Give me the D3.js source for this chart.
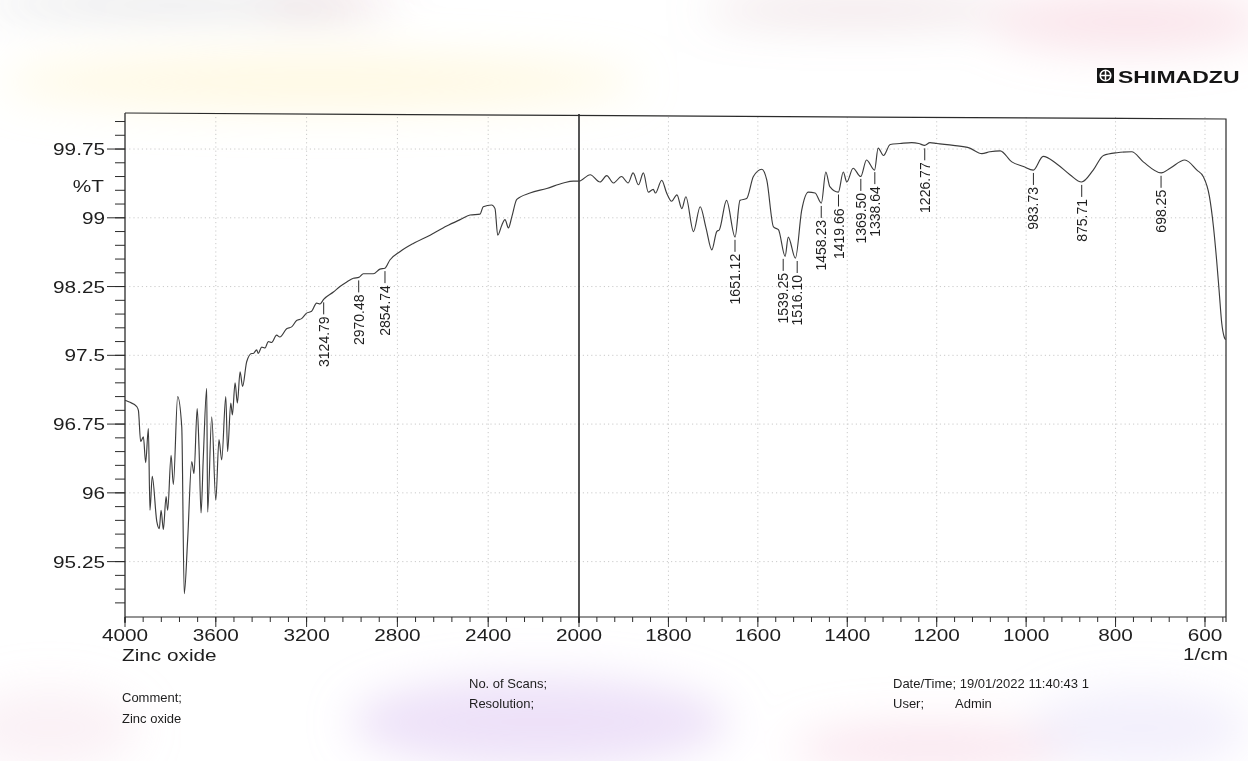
<!DOCTYPE html>
<html>
<head>
<meta charset="utf-8">
<script src="https://cdn.jsdelivr.net/npm/d3@7"></script>
<style>
  html, body { margin: 0; padding: 0; background: #fff; }
  svg { display: block; font-family: "Liberation Sans", Arial, sans-serif; }
</style>
</head>
<body>
<svg id="chart" width="1248" height="761"></svg>
<script>
// FTIR spectrum of zinc oxide: wavenumber (1/cm) and transmittance (%T)
const wavenumbers = [
  4000, 3981, 3948, 3941, 3931, 3919, 3909, 3897, 3890, 3880,
  3860, 3849, 3841, 3831, 3819, 3812, 3797, 3787, 3768, 3750,
  3739, 3724, 3706, 3696, 3682, 3674, 3665, 3655, 3640, 3636,
  3618, 3600, 3586, 3574, 3556, 3548, 3534, 3527, 3515, 3505,
  3493, 3482, 3464, 3442, 3435, 3420, 3413, 3398, 3383, 3369,
  3354, 3332, 3318, 3288, 3266, 3244, 3222, 3200, 3178, 3156,
  3141, 3125, 3082, 3053, 3023, 2994, 2970, 2950, 2906, 2877,
  2855, 2833, 2789, 2730, 2656, 2583, 2524, 2480, 2436, 2422,
  2385, 2370, 2358, 2340, 2326, 2311, 2296, 2274, 2216, 2142,
  2069, 2025, 2000,
  1975, 1953, 1938, 1923, 1905, 1890, 1879, 1867, 1856, 1845,
  1834, 1829, 1815, 1804, 1793, 1781, 1770, 1761, 1744, 1729,
  1716, 1703, 1692, 1686, 1670, 1651, 1640, 1625, 1610, 1591,
  1580, 1565, 1554, 1539, 1532, 1516, 1502, 1487, 1472, 1458,
  1448, 1439, 1420, 1409, 1401, 1387, 1370, 1357, 1339, 1331,
  1319, 1304, 1282, 1256, 1240, 1227, 1215, 1200, 1163, 1126,
  1099, 1081, 1058, 1032, 1006, 984, 962, 932, 902, 876,
  850, 827, 797, 764, 738, 698, 678, 645, 618, 604,
  590, 581, 574, 568, 562.5, 557, 554
];
const transmittance = [
  97.01, 96.99, 96.94, 96.90, 96.56, 96.61, 96.33, 96.70, 95.81, 96.18,
  95.69, 95.61, 95.81, 95.60, 95.96, 95.81, 96.41, 96.09, 97.05, 96.72,
  94.90, 95.49, 96.34, 96.21, 96.92, 96.50, 95.78, 96.39, 97.14, 95.79,
  96.83, 95.92, 96.58, 96.36, 97.05, 96.45, 96.98, 96.85, 97.20, 96.98,
  97.32, 97.16, 97.43, 97.52, 97.52, 97.56, 97.52, 97.59, 97.58, 97.65,
  97.64, 97.72, 97.70, 97.79, 97.81, 97.88, 97.90, 97.96, 97.98, 98.07,
  98.06, 98.11, 98.19, 98.25, 98.30, 98.34, 98.35, 98.39, 98.39, 98.44,
  98.45, 98.54, 98.63, 98.72, 98.81, 98.91, 98.98, 99.03, 99.04, 99.12,
  99.14, 99.10, 98.81, 98.92, 98.98, 98.89, 99.01, 99.20, 99.27, 99.32,
  99.38, 99.40, 99.40,
  99.47, 99.39, 99.46, 99.38, 99.45, 99.38, 99.49, 99.36, 99.49, 99.28,
  99.31, 99.27, 99.41, 99.27, 99.18, 99.25, 99.10, 99.23, 98.85, 99.12,
  98.89, 98.65, 98.85, 98.87, 99.19, 98.79, 99.19, 99.21, 99.45, 99.53,
  99.41, 98.90, 98.87, 98.58, 98.79, 98.56, 99.08, 99.28, 99.27, 99.16,
  99.50, 99.34, 99.28, 99.50, 99.39, 99.54, 99.45, 99.63, 99.52, 99.76,
  99.68, 99.80, 99.81, 99.82, 99.81, 99.79, 99.82, 99.81, 99.79, 99.76,
  99.70, 99.72, 99.73, 99.61, 99.56, 99.52, 99.67, 99.59, 99.47, 99.39,
  99.52, 99.68, 99.71, 99.72, 99.61, 99.49, 99.54, 99.63, 99.52, 99.45,
  99.23, 98.90, 98.54, 98.18, 97.85, 97.70, 97.67
];

// axis ticks (the wavenumber axis is expanded twofold below 2000 1/cm)
const xTicksHigh = [4000, 3600, 3200, 2800, 2400];
const xTicksLow = [2000, 1800, 1600, 1400, 1200, 1000, 800, 600];
const yTicks = [95.25, 96, 96.75, 97.5, 98.25, 99, 99.75];
const yTickLabels = ["95.25", "96", "96.75", "97.5", "98.25", "99", "99.75"];

// picked absorption bands
const peakWavenumbers = [3124.79, 2970.48, 2854.74, 1651.12, 1539.25, 1516.10, 1458.23,
  1419.66, 1369.50, 1338.64, 1226.77, 983.73, 875.71, 698.25];
const peakLabels = ["3124.79", "2970.48", "2854.74", "1651.12", "1539.25", "1516.10", "1458.23",
  "1419.66", "1369.50", "1338.64", "1226.77", "983.73", "875.71", "698.25"];

const svg = d3.select("#chart");
const ink = "#2b2b2b";

// ---- paper tint ----
const defs = svg.append("defs");
defs.append("filter").attr("id", "soft").attr("x", "-50%").attr("y", "-50%")
  .attr("width", "200%").attr("height", "200%")
  .append("feGaussianBlur").attr("stdDeviation", 22);
const tints = [
  {cx: 170, cy: 4, rx: 190, ry: 9, c: "#8e8e96", o: 0.35},
  {cx: 330, cy: 6, rx: 70, ry: 8, c: "#b05868", o: 0.25},
  {cx: 860, cy: 10, rx: 160, ry: 14, c: "#c89aa6", o: 0.3},
  {cx: 1130, cy: 22, rx: 140, ry: 30, c: "#f2b4c6", o: 0.35},
  {cx: 320, cy: 82, rx: 320, ry: 28, c: "#fff0b8", o: 0.4},
  {cx: 540, cy: 722, rx: 190, ry: 45, c: "#dcc4f2", o: 0.5},
  {cx: 930, cy: 748, rx: 140, ry: 24, c: "#f2c0d8", o: 0.4},
  {cx: 50, cy: 728, rx: 90, ry: 40, c: "#f3cfe0", o: 0.3},
  {cx: 1140, cy: 728, rx: 110, ry: 40, c: "#d6ccf4", o: 0.3}
];
svg.append("g").attr("filter", "url(#soft)")
  .selectAll("ellipse").data(tints).join("ellipse")
  .attr("cx", d => d.cx).attr("cy", d => d.cy)
  .attr("rx", d => d.rx).attr("ry", d => d.ry)
  .attr("fill", d => d.c).attr("opacity", d => d.o);

// ---- scales ----
const plotLeft = 125, plotMid = 579, plotRight = 1226, plotBottom = 617;
const plotTopLeft = 113, plotTopRight = 119;
const xHigh = d3.scaleLinear().domain([4000, 2000]).range([plotLeft, plotMid]);
const xLow = d3.scaleLinear().domain([2000, 553]).range([plotMid, plotRight]);
const x = wn => (wn >= 2000 ? xHigh(wn) : xLow(wn));
const y = d3.scaleLinear().domain([94.646, 100.143]).range([plotBottom, plotTopLeft]);

// ---- grid ----
const grid = svg.append("g").attr("stroke", "#b9b9b9").attr("stroke-width", 1)
  .attr("stroke-dasharray", "1.2,3").attr("opacity", 0.75);
grid.selectAll("line.gx")
  .data(xTicksHigh.slice(1).concat(xTicksLow.slice(1)))
  .join("line").attr("class", "gx")
  .attr("x1", d => x(d)).attr("x2", d => x(d))
  .attr("y1", plotTopLeft + 4).attr("y2", plotBottom);
grid.selectAll("line.gy").data(yTicks).join("line").attr("class", "gy")
  .attr("x1", plotLeft).attr("x2", plotRight)
  .attr("y1", d => y(d)).attr("y2", d => y(d));

// ---- frame ----
const frame = svg.append("g").attr("stroke", ink).attr("fill", "none");
frame.append("path").attr("stroke-width", 1.2)
  .attr("d", `M${plotLeft},${plotTopLeft} L${plotRight},${plotTopRight} L${plotRight},${plotBottom + 5}`);
frame.append("line").attr("stroke-width", 1.3)
  .attr("x1", plotLeft).attr("x2", plotLeft).attr("y1", plotTopLeft).attr("y2", plotBottom + 6);
frame.append("line").attr("stroke-width", 1.2)
  .attr("x1", plotLeft).attr("x2", plotRight).attr("y1", plotBottom).attr("y2", plotBottom);
// scale break at 2000 1/cm
frame.append("line").attr("stroke-width", 1.6)
  .attr("x1", xHigh(2000)).attr("x2", xHigh(2000))
  .attr("y1", plotTopLeft + 1).attr("y2", plotBottom + 6);

// ---- x axis ticks ----
const minorHigh = d3.range(4000, 1999, -80);
const minorLow = d3.range(2000, 553, -40);
const xt = svg.append("g").attr("stroke", ink).attr("stroke-width", 1);
xt.selectAll("line.mh").data(minorHigh).join("line").attr("class", "mh")
  .attr("x1", d => xHigh(d)).attr("x2", d => xHigh(d))
  .attr("y1", plotBottom).attr("y2", plotBottom + 5);
xt.selectAll("line.ml").data(minorLow).join("line").attr("class", "ml")
  .attr("x1", d => xLow(d)).attr("x2", d => xLow(d))
  .attr("y1", plotBottom).attr("y2", plotBottom + 5);
xt.selectAll("line.Mj").data(xTicksHigh.concat(xTicksLow)).join("line").attr("class", "Mj")
  .attr("x1", d => x(d)).attr("x2", d => x(d))
  .attr("y1", plotBottom).attr("y2", plotBottom + 10);

const stretch = 1.26;
svg.append("g").attr("fill", "#1e1e1e").attr("font-size", 16.5)
  .selectAll("text").data(xTicksHigh.concat(xTicksLow.slice(1)).concat([2000]))
  .join("text")
  .attr("transform", d => `translate(${x(d)},641) scale(${stretch},1)`)
  .attr("text-anchor", "middle")
  .text(d => d);

// ---- y axis ticks ----
const yMinor = d3.range(0, 37).map(i => +(94.80 + 0.15 * i).toFixed(2)).filter(v => v <= 100.1);
const yt = svg.append("g").attr("stroke", ink).attr("stroke-width", 1);
yt.selectAll("line.ym").data(yMinor).join("line").attr("class", "ym")
  .attr("x1", plotLeft - 10).attr("x2", plotLeft)
  .attr("y1", d => y(d)).attr("y2", d => y(d));
yt.selectAll("line.yM").data(yTicks).join("line").attr("class", "yM")
  .attr("x1", plotLeft - 18).attr("x2", plotLeft)
  .attr("y1", d => y(d)).attr("y2", d => y(d));

svg.append("g").attr("fill", "#1e1e1e").attr("font-size", 16.5)
  .selectAll("text").data(yTicks).join("text")
  .attr("transform", d => `translate(105,${y(d) + 6}) scale(${stretch},1)`)
  .attr("text-anchor", "end")
  .text((d, i) => yTickLabels[i]);

const axisText = svg.append("g").attr("fill", "#1e1e1e").attr("font-size", 16.5);
axisText.append("text").attr("transform", `translate(104,${y(99.35) + 6}) scale(${stretch},1)`)
  .attr("text-anchor", "end").text("%T");
axisText.append("text").attr("transform", `translate(1228,660) scale(${stretch},1)`)
  .attr("text-anchor", "end").text("1/cm");
axisText.append("text").attr("transform", `translate(122,661) scale(${stretch},1)`)
  .attr("text-anchor", "start").text("Zinc oxide");

// ---- spectrum ----
const spectrum = wavenumbers.map((wn, i) => ({wn, t: transmittance[i]}));
const line = d3.line().x(d => x(d.wn)).y(d => y(d.t)).curve(d3.curveMonotoneX);
svg.append("path").datum(spectrum)
  .attr("fill", "none").attr("stroke", "#3c3c3c").attr("stroke-width", 1.15)
  .attr("stroke-linejoin", "round")
  .attr("d", line);

// ---- peak annotations ----
const byWn = d3.bisector(d => -d.wn).left;
function tAt(wn) {
  const i = Math.min(Math.max(byWn(spectrum, -wn), 1), spectrum.length - 1);
  const a = spectrum[i - 1], b = spectrum[i];
  const f = (a.wn - wn) / (a.wn - b.wn);
  return a.t + f * (b.t - a.t);
}
// label anchors, spread apart where two bands sit too close for their text
const minGap = 14;
const anchors = peakWavenumbers.map((wn, i) => ({wn, label: peakLabels[i], px: x(wn), py: y(tAt(wn))}));
for (let i = 1; i < anchors.length; i++) {
  const gap = anchors[i].px - anchors[i - 1].px;
  if (gap < minGap) {
    const shift = (minGap - gap) / 2;
    anchors[i - 1].px -= shift;
    anchors[i].px += shift;
  }
}
const peaks = svg.append("g");
anchors.forEach(a => {
  peaks.append("line").attr("stroke", ink).attr("stroke-width", 1)
    .attr("x1", a.px).attr("x2", a.px).attr("y1", a.py + 3).attr("y2", a.py + 15);
  peaks.append("text")
    .attr("transform", `translate(${a.px},${a.py + 17}) rotate(-90)`)
    .attr("text-anchor", "end").attr("dy", "0.36em")
    .attr("font-size", 14).attr("fill", "#1e1e1e")
    .text(a.label);
});

// ---- maker mark ----
const logo = svg.append("g");
logo.append("rect").attr("x", 1097).attr("y", 68).attr("width", 17).attr("height", 15).attr("fill", "#151515");
logo.append("circle").attr("cx", 1105.5).attr("cy", 75.5).attr("r", 5.3)
  .attr("fill", "none").attr("stroke", "#fff").attr("stroke-width", 1.6);
logo.append("path").attr("stroke", "#fff").attr("stroke-width", 1.5)
  .attr("d", "M1105.5,70.2 V80.8 M1100.2,75.5 H1110.8");
logo.append("text").attr("transform", "translate(1118,82.5) scale(1.44,1)")
  .attr("font-size", 16).attr("font-weight", "bold").attr("fill", "#151515")
  .text("SHIMADZU");

// ---- run information ----
const info = svg.append("g").attr("font-size", 13).attr("fill", "#1e1e1e");
[
  {x: 122, y: 702, s: "Comment;"},
  {x: 122, y: 723, s: "Zinc oxide"},
  {x: 469, y: 688, s: "No. of Scans;"},
  {x: 469, y: 708, s: "Resolution;"},
  {x: 893, y: 688, s: "Date/Time; 19/01/2022 11:40:43 1"},
  {x: 893, y: 708, s: "User;"},
  {x: 955, y: 708, s: "Admin"}
].forEach(d => info.append("text").attr("x", d.x).attr("y", d.y).text(d.s));
</script>
</body>
</html>
